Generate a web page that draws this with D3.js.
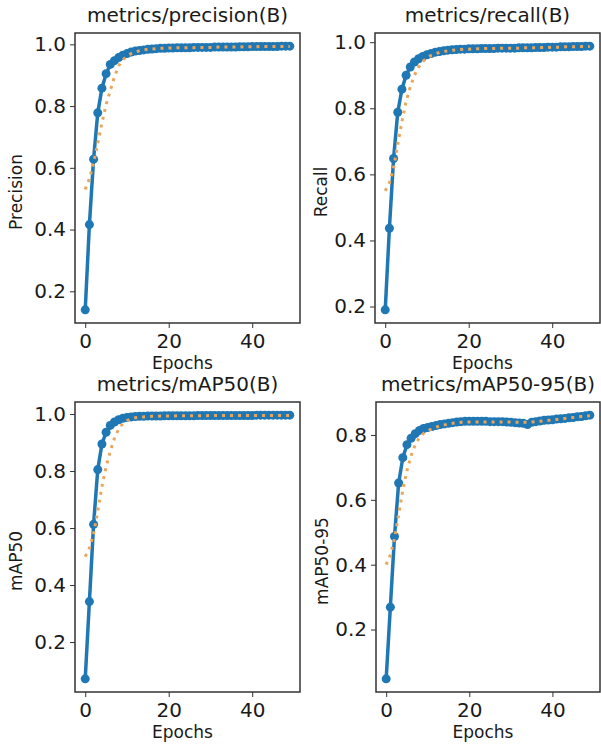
<!DOCTYPE html>
<html>
<head>
<meta charset="utf-8">
<script src="https://cdn.jsdelivr.net/npm/d3@7"></script>
<style>
  body { margin: 0; background: #fff; }
  text { font-family: "DejaVu Sans", sans-serif; fill: #1a1a1a; }
</style>
</head>
<body>
<script>
var width = 601;
var height = 747;

// epochs 0..49
var epochs = d3.range(50);

// blue = raw results, orange = smoothed
var precisionRaw = [0.140, 0.416, 0.628, 0.778, 0.858, 0.905, 0.935, 0.947, 0.957, 0.965,
  0.970, 0.975, 0.978, 0.980, 0.982, 0.984, 0.985, 0.986, 0.987, 0.987,
  0.988, 0.988, 0.989, 0.989, 0.989, 0.989, 0.990, 0.990, 0.990, 0.990,
  0.990, 0.991, 0.991, 0.991, 0.991, 0.991, 0.991, 0.992, 0.992, 0.992,
  0.993, 0.993, 0.993, 0.993, 0.993, 0.993, 0.993, 0.994, 0.994, 0.994];
var precisionSmooth = [0.530, 0.565, 0.615, 0.680, 0.745, 0.805, 0.850, 0.895, 0.930, 0.950,
  0.962, 0.970, 0.975, 0.979, 0.982, 0.984, 0.985, 0.986, 0.987, 0.987,
  0.988, 0.988, 0.989, 0.989, 0.989, 0.989, 0.989, 0.990, 0.990, 0.990,
  0.990, 0.990, 0.991, 0.991, 0.991, 0.991, 0.991, 0.991, 0.992, 0.992,
  0.992, 0.992, 0.993, 0.993, 0.993, 0.993, 0.993, 0.993, 0.993, 0.993];

var recallRaw = [0.190, 0.437, 0.648, 0.788, 0.858, 0.900, 0.925, 0.940, 0.950, 0.957,
  0.962, 0.966, 0.970, 0.972, 0.974, 0.976, 0.977, 0.978, 0.979, 0.979,
  0.980, 0.980, 0.980, 0.981, 0.981, 0.981, 0.981, 0.982, 0.982, 0.982,
  0.982, 0.982, 0.983, 0.983, 0.983, 0.983, 0.984, 0.984, 0.984, 0.985,
  0.985, 0.985, 0.986, 0.986, 0.986, 0.987, 0.987, 0.987, 0.988, 0.988];
var recallSmooth = [0.550, 0.575, 0.620, 0.690, 0.760, 0.820, 0.865, 0.900, 0.925, 0.942,
  0.952, 0.960, 0.965, 0.969, 0.972, 0.974, 0.976, 0.977, 0.978, 0.979,
  0.979, 0.980, 0.980, 0.980, 0.981, 0.981, 0.981, 0.981, 0.982, 0.982,
  0.982, 0.982, 0.982, 0.983, 0.983, 0.983, 0.983, 0.984, 0.984, 0.984,
  0.985, 0.985, 0.985, 0.986, 0.986, 0.986, 0.987, 0.987, 0.987, 0.987];

var map50Raw = [0.071, 0.342, 0.613, 0.805, 0.895, 0.936, 0.960, 0.972, 0.980, 0.985,
  0.988, 0.990, 0.991, 0.992, 0.992, 0.993, 0.993, 0.993, 0.993, 0.994,
  0.994, 0.994, 0.994, 0.994, 0.994, 0.994, 0.994, 0.995, 0.995, 0.995,
  0.995, 0.995, 0.995, 0.995, 0.995, 0.995, 0.995, 0.995, 0.995, 0.995,
  0.995, 0.996, 0.996, 0.996, 0.996, 0.996, 0.996, 0.996, 0.996, 0.996];
var map50Smooth = [0.500, 0.530, 0.580, 0.660, 0.745, 0.815, 0.870, 0.915, 0.948, 0.966,
  0.977, 0.983, 0.987, 0.989, 0.990, 0.991, 0.992, 0.992, 0.993, 0.993,
  0.993, 0.993, 0.994, 0.994, 0.994, 0.994, 0.994, 0.994, 0.994, 0.994,
  0.995, 0.995, 0.995, 0.995, 0.995, 0.995, 0.995, 0.995, 0.995, 0.995,
  0.995, 0.995, 0.995, 0.995, 0.995, 0.995, 0.995, 0.995, 0.995, 0.995];

var map5095Raw = [0.048, 0.269, 0.487, 0.652, 0.730, 0.770, 0.790, 0.804, 0.814, 0.820,
  0.823, 0.826, 0.829, 0.832, 0.834, 0.836, 0.838, 0.840, 0.841, 0.842,
  0.842, 0.842, 0.842, 0.842, 0.842, 0.841, 0.841, 0.841, 0.841, 0.840,
  0.839, 0.838, 0.837, 0.836, 0.832, 0.839, 0.841, 0.843, 0.845, 0.846,
  0.847, 0.849, 0.850, 0.851, 0.853, 0.854, 0.856, 0.857, 0.859, 0.861];
var map5095Smooth = [0.400, 0.430, 0.480, 0.555, 0.630, 0.690, 0.737, 0.770, 0.792, 0.805,
  0.813, 0.819, 0.824, 0.828, 0.831, 0.834, 0.836, 0.838, 0.839, 0.840,
  0.840, 0.840, 0.840, 0.840, 0.840, 0.840, 0.840, 0.840, 0.840, 0.840,
  0.840, 0.839, 0.839, 0.839, 0.839, 0.840, 0.841, 0.842, 0.844, 0.845,
  0.846, 0.848, 0.849, 0.851, 0.852, 0.854, 0.855, 0.857, 0.858, 0.859];

var titles = ["metrics/precision(B)", "metrics/recall(B)", "metrics/mAP50(B)", "metrics/mAP50-95(B)"];
var yLabels = ["Precision", "Recall", "mAP50", "mAP50-95"];
var xLabel = "Epochs";
var yTicks = [[0.2, 0.4, 0.6, 0.8, 1.0], [0.2, 0.4, 0.6, 0.8, 1.0], [0.2, 0.4, 0.6, 0.8, 1.0], [0.2, 0.4, 0.6, 0.8]];
var xTicks = [0, 20, 40];

var rawSeries = [precisionRaw, recallRaw, map50Raw, map5095Raw];
var smoothSeries = [precisionSmooth, recallSmooth, map50Smooth, map5095Smooth];

// panel boxes (left, top, right, bottom) and y-label offset
var panels = [
  {l: 75, t: 33, r: 300, b: 323, yl: 53},
  {l: 375, t: 33, r: 600, b: 323, yl: 48},
  {l: 75, t: 402, r: 300, b: 692, yl: 53},
  {l: 376, t: 402, r: 600, b: 692, yl: 48}
];

var blue = "#1f77b4";
var orange = "#eba659";

var svg = d3.select("body").append("svg")
  .attr("width", width)
  .attr("height", height);

panels.forEach(function (p, i) {
  var raw = rawSeries[i];
  var smooth = smoothSeries[i];

  // matplotlib style 5% margins
  var xPad = (d3.max(epochs) - d3.min(epochs)) * 0.05;
  var x = d3.scaleLinear()
    .domain([d3.min(epochs) - xPad, d3.max(epochs) + xPad])
    .range([p.l, p.r]);

  var all = raw.concat(smooth);
  var lo = d3.min(all), hi = d3.max(all);
  var yPad = (hi - lo) * 0.05;
  var y = d3.scaleLinear()
    .domain([lo - yPad, hi + yPad])
    .range([p.b, p.t]);

  var g = svg.append("g");

  g.append("g")
    .attr("transform", "translate(0," + p.b + ")")
    .call(d3.axisBottom(x).tickValues(xTicks).tickSize(5).tickPadding(6).tickFormat(d3.format("d")))
    .call(function (a) {
      a.select(".domain").remove();
      a.selectAll("text").style("font-size", "20px").style("font-family", "DejaVu Sans");
      a.selectAll("line").attr("stroke", "#333");
    });

  g.append("g")
    .attr("transform", "translate(" + p.l + ",0)")
    .call(d3.axisLeft(y).tickValues(yTicks[i]).tickSize(5).tickPadding(4).tickFormat(d3.format(".1f")))
    .call(function (a) {
      a.select(".domain").remove();
      a.selectAll("text").style("font-size", "20px").style("font-family", "DejaVu Sans");
      a.selectAll("line").attr("stroke", "#333");
    });

  var line = d3.line()
    .x(function (d, j) { return x(epochs[j]); })
    .y(function (d) { return y(d); });

  g.append("path")
    .attr("d", line(raw))
    .attr("fill", "none")
    .attr("stroke", blue)
    .attr("stroke-width", 3.5)
    .attr("stroke-linejoin", "round");

  g.selectAll("circle")
    .data(raw)
    .enter()
    .append("circle")
    .attr("cx", function (d, j) { return x(epochs[j]); })
    .attr("cy", function (d) { return y(d); })
    .attr("r", 4.5)
    .attr("fill", blue);

  g.append("path")
    .attr("d", line(smooth))
    .attr("fill", "none")
    .attr("stroke", orange)
    .attr("stroke-width", 3)
    .attr("stroke-dasharray", "3,5");

  // frame
  g.append("rect")
    .attr("x", p.l)
    .attr("y", p.t)
    .attr("width", p.r - p.l)
    .attr("height", p.b - p.t)
    .attr("fill", "none")
    .attr("stroke", "#333")
    .attr("stroke-width", 1.5);

  var cx = (p.l + p.r) / 2;
  g.append("text")
    .attr("x", cx)
    .attr("y", p.t - 11)
    .attr("text-anchor", "middle")
    .style("font-size", "20px")
    .text(titles[i]);

  g.append("text")
    .attr("x", cx - 5)
    .attr("y", p.b + 46)
    .attr("text-anchor", "middle")
    .style("font-size", "17px")
    .text(xLabel);

  g.append("text")
    .attr("transform", "translate(" + (p.l - p.yl) + "," + ((p.t + p.b) / 2 + 14) + ") rotate(-90)")
    .attr("text-anchor", "middle")
    .style("font-size", "17px")
    .text(yLabels[i]);
});
</script>
</body>
</html>
